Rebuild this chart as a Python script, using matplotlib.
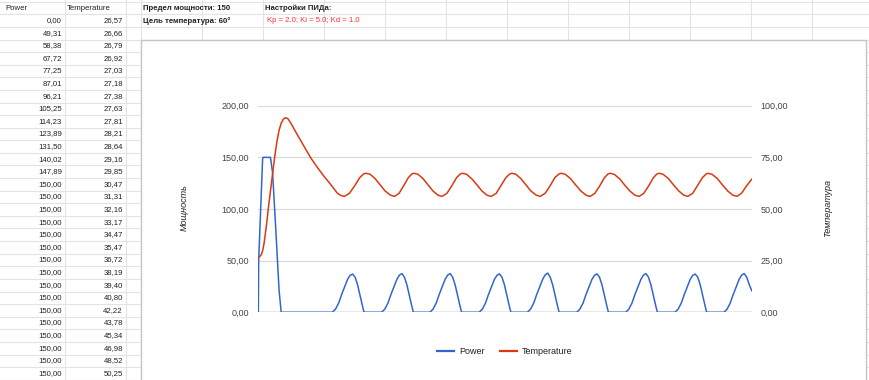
import matplotlib
matplotlib.use('Agg')
import matplotlib.pyplot as plt
from matplotlib.patches import Rectangle
from matplotlib.lines import Line2D

plt.rcParams['font.family'] = ['Liberation Sans', 'DejaVu Sans']

# ---------------- data ----------------
# table columns visible in the sheet (first 29 samples)
table_power = [0.00, 49.31, 58.38, 67.72, 77.25, 87.01, 96.21, 105.25, 114.23,
               123.89, 131.50, 140.02, 147.89, 150.00, 150.00, 150.00, 150.00,
               150.00, 150.00, 150.00, 150.00, 150.00, 150.00, 150.00, 150.00,
               150.00, 150.00, 150.00, 150.00]
table_temp = [26.57, 26.66, 26.79, 26.92, 27.03, 27.18, 27.38, 27.63, 27.81,
              28.21, 28.64, 29.16, 29.85, 30.47, 31.31, 32.16, 33.17, 34.47,
              35.47, 36.72, 38.19, 39.40, 40.80, 42.22, 43.78, 45.34, 46.98,
              48.52, 50.25]
table_time = list(range(len(table_power)))

# later samples (sample index, value)
power_time_tail = [34, 40, 49, 58, 64,
                   207, 216, 225, 233, 242, 250, 257, 264, 271, 278, 285, 292, 296,
                   345, 354, 363, 371, 380, 388, 395, 402, 409, 416, 423, 430, 434,
                   480, 489, 498, 506, 515, 523, 530, 537, 544, 551, 558, 565, 569,
                   618, 627, 636, 644, 653, 661, 668, 675, 682, 689, 696, 703, 707,
                   753, 762, 771, 779, 788, 796, 803, 810, 817, 824, 831, 838, 842,
                   891, 900, 909, 917, 926, 934, 941, 948, 955, 962, 969, 976, 980,
                   1028, 1037, 1046, 1054, 1063, 1071, 1078, 1085, 1092, 1099, 1106, 1113, 1117,
                   1166, 1175, 1184, 1192, 1201, 1209, 1216, 1223, 1230, 1237, 1244, 1251, 1255,
                   1303, 1312, 1321, 1329, 1338, 1346, 1353, 1360, 1367, 1374, 1381]
power_tail = [150, 135, 80, 22, 0,
              0, 3, 9, 17, 25, 32, 35.8, 37.0, 34, 26.5, 16, 5.5, 0,
              0, 3, 9, 17, 25, 32, 36.0, 37.5, 34, 26.5, 16, 5.5, 0,
              0, 3, 9, 17, 25, 32, 36.0, 37.5, 34, 26.5, 16, 5.5, 0,
              0, 3, 9, 17, 25, 32, 35.8, 37.2, 34, 26.5, 16, 5.5, 0,
              0, 3, 9, 17, 25, 32, 36.2, 38.0, 34, 26.5, 16, 5.5, 0,
              0, 3, 9, 17, 25, 32, 35.8, 37.2, 34, 26.5, 16, 5.5, 0,
              0, 3, 9, 17, 25, 32, 36.0, 37.5, 34, 26.5, 16, 5.5, 0,
              0, 3, 9, 17, 25, 32, 35.8, 37.0, 34, 26.5, 16, 5.5, 0,
              0, 3, 9, 17, 25, 32, 36.0, 37.5, 34, 27, 21]

temp_time_tail = [34, 40, 46, 52, 58, 64, 70, 76, 83, 91, 109, 128, 147, 165, 184, 203, 221, 230, 241,
                  255, 270, 284, 295, 302, 313, 327, 341, 355, 370, 381,
                  394, 407, 420, 430, 436, 447, 461, 475, 489, 503, 514,
                  528, 542, 555, 566, 572, 583, 597, 612, 626, 640, 652,
                  666, 679, 693, 704, 710, 721, 735, 749, 763, 778, 789,
                  803, 817, 830, 842, 848, 859, 874, 888, 903, 917, 929,
                  942, 956, 969, 979, 985, 996, 1011, 1025, 1040, 1054, 1066,
                  1079, 1093, 1106, 1116, 1122, 1133, 1148, 1162, 1177, 1191, 1202,
                  1216, 1229, 1243, 1254, 1259, 1270, 1285, 1299, 1314, 1328, 1340,
                  1353, 1367, 1381]
temp_tail = [58.5, 67.0, 75.5, 82.5, 88.0, 91.5, 93.5, 94.2, 93.7, 91.6, 86.0, 80.3, 74.7, 70.2, 65.8, 61.8, 57.7, 56.6, 56.1,
             57.6, 61.3, 65.2, 67.0, 67.3, 66.8, 64.7, 61.7, 58.7, 56.7, 56.1,
             57.6, 61.3, 65.2, 67.0, 67.3, 66.8, 64.7, 61.7, 58.7, 56.7, 56.1,
             57.6, 61.3, 65.2, 67.0, 67.3, 66.8, 64.7, 61.7, 58.7, 56.7, 56.1,
             57.6, 61.3, 65.2, 67.0, 67.3, 66.8, 64.7, 61.7, 58.7, 56.7, 56.1,
             57.6, 61.3, 65.2, 67.0, 67.3, 66.8, 64.7, 61.7, 58.7, 56.7, 56.1,
             57.6, 61.3, 65.2, 67.0, 67.3, 66.8, 64.7, 61.7, 58.7, 56.7, 56.1,
             57.6, 61.3, 65.2, 67.0, 67.3, 66.8, 64.7, 61.7, 58.7, 56.7, 56.1,
             57.6, 61.3, 65.2, 67.0, 67.3, 66.8, 64.7, 61.7, 58.7, 56.7, 56.1,
             57.7, 61.3, 64.4]

left_ticks = [0, 50, 100, 150, 200]
right_ticks = [0, 25, 50, 75, 100]

header_power = "Power"
header_temp = "Temperature"
note_limit = "Предел мощности: 150"
note_target = "Цель температура: 60°"
note_pid_title = "Настройки ПИДа:"
note_pid = "Kp = 2.0; Ki = 5.0; Kd = 1.0"

BLUE = '#3366cc'
RED = '#dc3912'

def fmt(v):
    return f"{v:.2f}".replace('.', ',')

# ---------------- figure ----------------
W, H = 870, 380
fig = plt.figure(figsize=(W / 100, H / 100), dpi=100)
bg = fig.add_axes([0, 0, 1, 1])
bg.set_xlim(0, W)
bg.set_ylim(H, 0)
bg.axis('off')

grid_c = '#e3e3e3'
row_h = 12.6
row0 = 1.7
for k in range(31):
    y = row0 + row_h * k
    bg.plot([0, W], [y, y], color=grid_c, lw=0.8, zorder=1)
col_lines = [64.7, 126.0] + [140.7 + 61.0 * k for k in range(13)]
for x in col_lines:
    bg.plot([x, x], [0, H], color=grid_c, lw=0.8, zorder=1)

cell_fs = 5.6
bg.text(5, row0 + row_h * 0.5, header_power, fontsize=cell_fs, va='center', ha='left', color='#222')
bg.text(67, row0 + row_h * 0.5, header_temp, fontsize=cell_fs, va='center', ha='left', color='#222')
for i, (p, t) in enumerate(zip(table_power, table_temp)):
    y = row0 + row_h * (i + 1.5)
    bg.text(62, y, fmt(p), fontsize=cell_fs, va='center', ha='right', color='#222')
    bg.text(123, y, fmt(t), fontsize=cell_fs, va='center', ha='right', color='#222')

bg.text(143, row0 + row_h * 0.5, note_limit, fontsize=cell_fs, fontweight='bold', va='center', ha='left', color='#222')
bg.text(143, row0 + row_h * 1.5, note_target, fontsize=cell_fs, fontweight='bold', va='center', ha='left', color='#222')
bg.text(265, row0 + row_h * 0.5, note_pid_title, fontsize=cell_fs, fontweight='bold', va='center', ha='left', color='#222')
bg.text(267, row0 + row_h * 1.5, note_pid, fontsize=cell_fs, va='center', ha='left', color='#ff3030')

# chart frame
bg.add_patch(Rectangle((141, 40), 725, 360, facecolor='white', edgecolor='#c4c4c4', lw=1.0, zorder=3))

# chart axes
x0, x1 = 258.3, 751.7
y200, y0 = 105.7, 312.3
ax = fig.add_axes([x0 / W, 1 - y0 / H, (x1 - x0) / W, (y0 - y200) / H], zorder=5)
ax.patch.set_alpha(0)
ax2 = ax.twinx()
ax2.patch.set_alpha(0)

ax.set_xlim(0, 1381)
ax.set_ylim(0, 200)
ax2.set_ylim(0, 100)

ax.set_yticks(left_ticks)
ax.set_yticklabels([fmt(v) for v in left_ticks])
ax2.set_yticks(right_ticks)
ax2.set_yticklabels([fmt(v) for v in right_ticks])
ax.set_xticks([])
for a in (ax, ax2):
    for s in a.spines.values():
        s.set_visible(False)
    a.tick_params(axis='y', length=0, labelsize=6.5, labelcolor='#444444', pad=6.5)
ax.yaxis.grid(True, color='#d8d8d8', lw=0.8)
ax.set_axisbelow(True)
ax.axhline(0, color='#9a9a9a', lw=1.0, zorder=1)

lp, = ax.plot(table_time + power_time_tail, table_power + power_tail, color=BLUE, lw=1.1, zorder=3)
lt, = ax2.plot(table_time + temp_time_tail, table_temp + temp_tail, color=RED, lw=1.1, zorder=3)

fig.text(184 / W, 1 - 208 / H, "Мощность", rotation=90, fontsize=6.5, style='italic',
         ha='center', va='center', color='#222', zorder=6)
fig.text(827.7 / W, 1 - 208 / H, "Температура", rotation=90, fontsize=6.5, style='italic',
         ha='center', va='center', color='#222', zorder=6)

leg = fig.legend([Line2D([], [], color=BLUE, lw=1.6), Line2D([], [], color=RED, lw=1.6)],
                 [header_power, header_temp], loc='center', bbox_to_anchor=(505 / W, 1 - 352 / H),
                 ncol=2, frameon=False, fontsize=6.5, handlelength=1.9, handletextpad=0.55,
                 columnspacing=1.7, labelcolor='#222')
leg.set_zorder(6)

fig.savefig('out.png', dpi=100)
